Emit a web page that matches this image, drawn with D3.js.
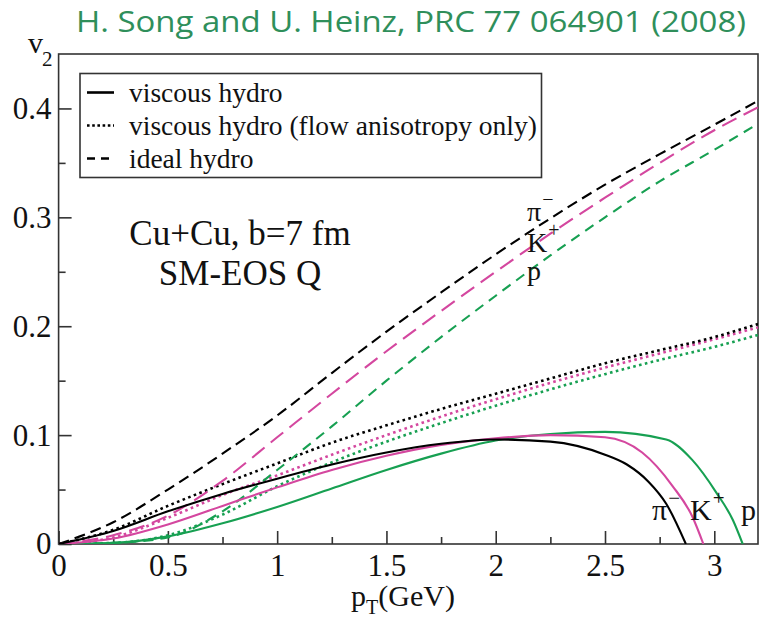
<!DOCTYPE html>
<html>
<head>
<meta charset="utf-8">
<script src="https://cdn.jsdelivr.net/npm/d3@7"></script>
<style>
  html, body { margin: 0; padding: 0; background: #fff; }
  svg { display: block; }
</style>
</head>
<body>
<svg id="chart" width="764" height="618"></svg>
<script>
// Elliptic flow v2(pT) for identified hadrons, Cu+Cu at b=7 fm, SM-EOS Q

const titleText = "H. Song and U. Heinz, PRC 77 064901 (2008)";
const species = ["π", "K", "p"];
const speciesCharge = ["−", "+", ""];

// common pT grid for ideal hydro and flow-anisotropy-only curves (GeV)
const ptGrid = [0, 0.25, 0.5, 0.75, 1, 1.25, 1.5, 1.75, 2, 2.25, 2.5, 2.75, 3, 3.2];

// ideal hydro
const idealPi = [0, 0.020, 0.050, 0.083, 0.118, 0.157, 0.195, 0.231, 0.266, 0.299, 0.330, 0.358, 0.385, 0.407];
const idealK  = [0, 0.008, 0.026, 0.058, 0.098, 0.138, 0.177, 0.214, 0.250, 0.285, 0.318, 0.350, 0.380, 0.401];
const idealP  = [0, 0.001, 0.006, 0.030, 0.068, 0.108, 0.150, 0.190, 0.228, 0.265, 0.300, 0.333, 0.362, 0.386];

// viscous hydro, flow anisotropy only
const flowPi = [0, 0.013, 0.035, 0.055, 0.074, 0.093, 0.109, 0.124, 0.138, 0.152, 0.166, 0.178, 0.190, 0.202];
const flowK  = [0, 0.006, 0.024, 0.045, 0.063, 0.082, 0.100, 0.117, 0.133, 0.148, 0.162, 0.175, 0.188, 0.199];
const flowP  = [0, 0.001, 0.008, 0.027, 0.053, 0.075, 0.094, 0.111, 0.127, 0.142, 0.156, 0.169, 0.181, 0.192];

// full viscous hydro (own pT grids, they turn over and hit zero)
const viscPtPi = [0, 0.25, 0.5, 0.75, 1, 1.25, 1.5, 1.75, 2, 2.25, 2.5, 2.6, 2.7, 2.78, 2.87];
const viscPi   = [0, 0.012, 0.030, 0.046, 0.060, 0.073, 0.084, 0.092, 0.096, 0.094, 0.082, 0.073, 0.057, 0.037, 0];
const viscPtK  = [0, 0.25, 0.5, 0.75, 1, 1.25, 1.5, 1.75, 2, 2.25, 2.5, 2.67, 2.81, 2.9, 2.95];
const viscK    = [0, 0.005, 0.018, 0.035, 0.052, 0.068, 0.081, 0.091, 0.097, 0.100, 0.098, 0.084, 0.053, 0.025, 0];
const viscPtP  = [0, 0.25, 0.5, 0.75, 1, 1.25, 1.5, 1.75, 2, 2.25, 2.5, 2.78, 2.9, 3.01, 3.085, 3.13];
const viscP    = [0, 0.001, 0.007, 0.019, 0.034, 0.051, 0.068, 0.083, 0.095, 0.101, 0.103, 0.096, 0.077, 0.047, 0.022, 0];

const xTicks = [0, 0.5, 1, 1.5, 2, 2.5, 3];
const xTickLabels = ["0", "0.5", "1", "1.5", "2", "2.5", "3"];
const yTicks = [0, 0.1, 0.2, 0.3, 0.4];
const yTickLabels = ["0", "0.1", "0.2", "0.3", "0.4"];
const legendLabels = ["viscous hydro", "viscous hydro (flow anisotropy only)", "ideal hydro"];
const systemLines = ["Cu+Cu, b=7 fm", "SM-EOS Q"];

const colors = { pi: "#000000", K: "#d4479f", p: "#17a052" };

const svg = d3.select("#chart");
const W = 764, H = 618;
const m = { left: 58.6, right: 6, top: 54, bottom: 74 };

const x = d3.scaleLinear().domain([0, 3.2]).range([m.left, W - m.right]);
const y = d3.scaleLinear().domain([0, 0.45]).range([H - m.bottom, m.top]);

const serif = "'Liberation Serif', 'Times New Roman', serif";

// title
svg.append("text")
  .attr("x", 411).attr("y", 32)
  .attr("text-anchor", "middle")
  .attr("font-family", "'Open Sans', 'Noto Sans', sans-serif")
  .attr("font-size", 29)
  .attr("fill", "#2f8f5b")
  .attr("textLength", 670).attr("lengthAdjust", "spacingAndGlyphs")
  .text(titleText);

// frame
svg.append("rect")
  .attr("x", x(0)).attr("y", y(0.45))
  .attr("width", x(3.2) - x(0)).attr("height", y(0) - y(0.45))
  .attr("fill", "none").attr("stroke", "#333").attr("stroke-width", 1.6);

// axes with inward ticks
const xAxis = d3.axisBottom(x).tickValues(xTicks).tickSize(-13).tickPadding(10)
  .tickFormat((d, i) => xTickLabels[i]);
const xMinor = d3.axisBottom(x).tickValues(d3.range(0.25, 3.2, 0.5)).tickSize(-7).tickFormat("");
const yAxis = d3.axisLeft(y).tickValues(yTicks).tickSize(-13).tickPadding(7)
  .tickFormat((d, i) => yTickLabels[i]);
const yMinor = d3.axisLeft(y).tickValues(d3.range(0.05, 0.45, 0.1)).tickSize(-7).tickFormat("");

function styleAxis(g) {
  g.select(".domain").remove();
  g.selectAll("line").attr("stroke", "#333").attr("stroke-width", 1.6);
  g.selectAll("text").attr("font-family", serif).attr("font-size", 31).attr("fill", "#111");
}
svg.append("g").attr("transform", `translate(0,${y(0)})`).call(xAxis).call(styleAxis);
svg.append("g").attr("transform", `translate(0,${y(0)})`).call(xMinor).call(styleAxis);
svg.append("g").attr("transform", `translate(${x(0)},0)`).call(yAxis).call(styleAxis);
svg.append("g").attr("transform", `translate(${x(0)},0)`).call(yMinor).call(styleAxis);

// axis titles
const xt = svg.append("text")
  .attr("x", 403).attr("y", 606).attr("text-anchor", "middle")
  .attr("font-family", serif).attr("font-size", 30).attr("fill", "#111");
xt.append("tspan").text("p");
xt.append("tspan").attr("font-size", 20).attr("dy", 8).text("T");
xt.append("tspan").attr("dy", -8).text("(GeV)");

const yt = svg.append("text")
  .attr("x", 28).attr("y", 53)
  .attr("font-family", serif).attr("font-size", 30).attr("fill", "#111");
yt.append("tspan").text("v");
yt.append("tspan").attr("font-size", 21).attr("dy", 13).attr("dx", -1).text("2");

// curves
const line = d3.line().x(d => x(d[0])).y(d => y(d[1])).curve(d3.curveMonotoneX);
const zip = (a, b) => a.map((v, i) => [v, b[i]]);

const series = [
  { pts: zip(ptGrid, flowP),  color: colors.p,  dash: "2.6,3.4", w: 2.6 },
  { pts: zip(ptGrid, flowK),  color: colors.K,  dash: "2.6,3.4", w: 2.6 },
  { pts: zip(ptGrid, flowPi), color: colors.pi, dash: "2.6,3.4", w: 2.6 },
  { pts: zip(ptGrid, idealP),  color: colors.p,  dash: "10,7", w: 2.1 },
  { pts: zip(ptGrid, idealK),  color: colors.K,  dash: "16,8", w: 2.1 },
  { pts: zip(ptGrid, idealPi), color: colors.pi, dash: "11,6", w: 2.1 },
  { pts: zip(viscPtP, viscP),  color: colors.p,  dash: null, w: 2.1 },
  { pts: zip(viscPtK, viscK),  color: colors.K,  dash: null, w: 2.1 },
  { pts: zip(viscPtPi, viscPi), color: colors.pi, dash: null, w: 2.1 }
];

const clipId = "plotclip";
svg.append("clipPath").attr("id", clipId).append("rect")
  .attr("x", x(0)).attr("y", y(0.45)).attr("width", x(3.2) - x(0)).attr("height", y(0) - y(0.45));

svg.append("g").attr("clip-path", `url(#${clipId})`)
  .selectAll("path").data(series).join("path")
  .attr("d", d => line(d.pts))
  .attr("fill", "none")
  .attr("stroke", d => d.color)
  .attr("stroke-width", d => d.w)
  .attr("stroke-dasharray", d => d.dash);

// legend
const lg = svg.append("g");
lg.append("rect").attr("x", 80).attr("y", 73.5).attr("width", 461.5).attr("height", 104)
  .attr("fill", "#fff").attr("stroke", "#333").attr("stroke-width", 1.6);
const legendDash = [null, "2.6,2.6", "8,6"];
const legendY = [92.5, 125.5, 158.5];
legendLabels.forEach((lab, i) => {
  lg.append("line").attr("x1", 87).attr("x2", 114).attr("y1", legendY[i]).attr("y2", legendY[i])
    .attr("stroke", "#000").attr("stroke-width", 2.6).attr("stroke-dasharray", legendDash[i]);
  lg.append("text").attr("x", 129).attr("y", legendY[i] + 9)
    .attr("font-family", serif).attr("font-size", 27.5).attr("fill", "#111").text(lab);
});

// system annotation
systemLines.forEach((t, i) => {
  svg.append("text").attr("x", 240).attr("y", 245 + i * 40).attr("text-anchor", "middle")
    .attr("font-family", serif).attr("font-size", 35).attr("fill", "#111").text(t);
});

// species labels by the ideal curves
const idealLabelY = [221, 252, 280];
species.forEach((s, i) => {
  const t = svg.append("text").attr("x", 527).attr("y", idealLabelY[i])
    .attr("font-family", serif).attr("font-size", 28).attr("fill", "#111");
  t.append("tspan").text(s);
  if (speciesCharge[i]) t.append("tspan").attr("font-size", 20).attr("dy", -15).attr("dx", 1).text(speciesCharge[i]);
});

// species labels at the viscous curve ends
const endLabelX = [652, 690, 741];
species.forEach((s, i) => {
  const t = svg.append("text").attr("x", endLabelX[i]).attr("y", 520)
    .attr("font-family", serif).attr("font-size", 30).attr("fill", "#111");
  t.append("tspan").text(s);
  if (speciesCharge[i]) t.append("tspan").attr("font-size", 21).attr("dy", -15).attr("dx", 1).text(speciesCharge[i]);
});
</script>
</body>
</html>
